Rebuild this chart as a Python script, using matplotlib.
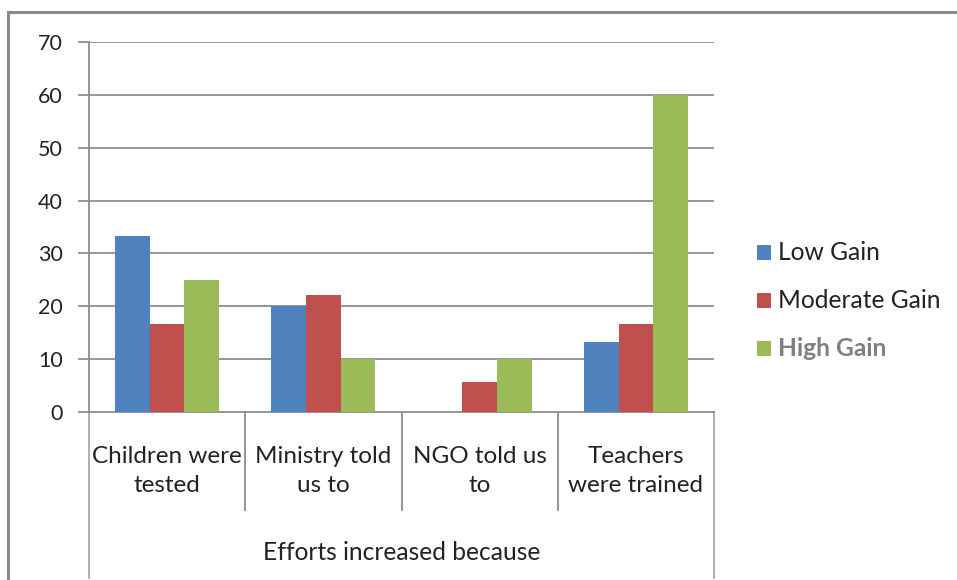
import matplotlib
matplotlib.use("Agg")
import matplotlib.pyplot as plt
from matplotlib.patches import Rectangle
from matplotlib.lines import Line2D
import numpy as np

categories = ["Children were\ntested", "Ministry told\nus to", "NGO told us\nto", "Teachers\nwere trained"]
series_names = ["Low Gain", "Moderate Gain", "High Gain"]
low_gain = [33.3, 20.0, 0.0, 13.3]
moderate_gain = [16.7, 22.2, 5.6, 16.7]
high_gain = [25.0, 10.0, 10.0, 60.0]
y_ticks = [0, 10, 20, 30, 40, 50, 60, 70]
group_label = "Efforts increased because"

colors = ["#4F81BD", "#C0504D", "#9BBB59"]
grid_c = "#8c8c8c"
FONT = "Lato"

W, H = 957, 580
fig = plt.figure(figsize=(W / 100, H / 100), dpi=100)
fig.patch.set_facecolor("white")

# chart border
fig.patches.append(Rectangle((8 / W, -0.1), 1.2, 1 - 12 / H + 0.1, transform=fig.transFigure,
                             fill=False, edgecolor="#8a8a8a", linewidth=2.2))

ax = fig.add_axes([89 / W, 1 - 412 / H, (714 - 89) / W, (412 - 42) / H])
x = np.arange(len(categories))
bw = 1 / 4.5
for i, vals in enumerate([low_gain, moderate_gain, high_gain]):
    ax.bar(x + (i - 1) * bw, vals, width=bw, color=colors[i], edgecolor="none", zorder=3)

ax.set_xlim(-0.5, len(categories) - 0.5)
ax.set_ylim(0, 70)
ax.set_yticks(y_ticks)
ax.set_yticklabels([str(t) for t in y_ticks], fontsize=15.5, family=FONT, color="#222222")
ax.tick_params(axis="y", length=8, width=1.3, color=grid_c, pad=11)
ax.set_xticks([])
for t in y_ticks[1:]:
    ax.axhline(t, color=grid_c, linewidth=1.3, zorder=1)
for s in ["top", "right"]:
    ax.spines[s].set_visible(False)
ax.spines["left"].set_color(grid_c)
ax.spines["left"].set_linewidth(1.3)
ax.spines["bottom"].set_color(grid_c)
ax.spines["bottom"].set_linewidth(1.3)

trans = matplotlib.transforms.blended_transform_factory(ax.transData, ax.transAxes)
ax_h = (412 - 42)
inner_bot = -(510 - 412) / ax_h
outer_bot = -(578 - 412) / ax_h
for b in np.arange(-0.5, len(categories), 1.0):
    yb = outer_bot if (b == -0.5 or b == len(categories) - 0.5) else inner_bot
    ax.add_line(Line2D([b, b], [0, yb], transform=trans, color=grid_c if yb == inner_bot else "#a8a8a8",
                       linewidth=1.3, clip_on=False))

for xi, lab in zip(x, categories):
    ax.text(xi, -(471 - 412) / ax_h, lab, transform=trans, ha="center", va="center",
            fontsize=17.5, family=FONT, color="#222222", linespacing=1.5)
ax.text((len(categories) - 1) / 2, -(552 - 412) / ax_h, group_label, transform=trans,
        ha="center", va="center", fontsize=17.7, family=FONT, color="#222222")

# legend
leg_y = [252, 300, 348]
for i, name in enumerate(series_names):
    yc = 1 - leg_y[i] / H
    fig.patches.append(Rectangle((757 / W, yc - 7.5 / H), 14 / W, 15 / H, transform=fig.transFigure,
                                 facecolor=colors[i], edgecolor="none"))
    bold = (i == 2)
    fig.text(778 / W, yc, name, ha="left", va="center", fontsize=17.7,
             family=FONT, fontweight="bold" if bold else "normal",
             color="#7f7f7f" if bold else "#222222")

fig.savefig("out.png", dpi=100, facecolor="white")
